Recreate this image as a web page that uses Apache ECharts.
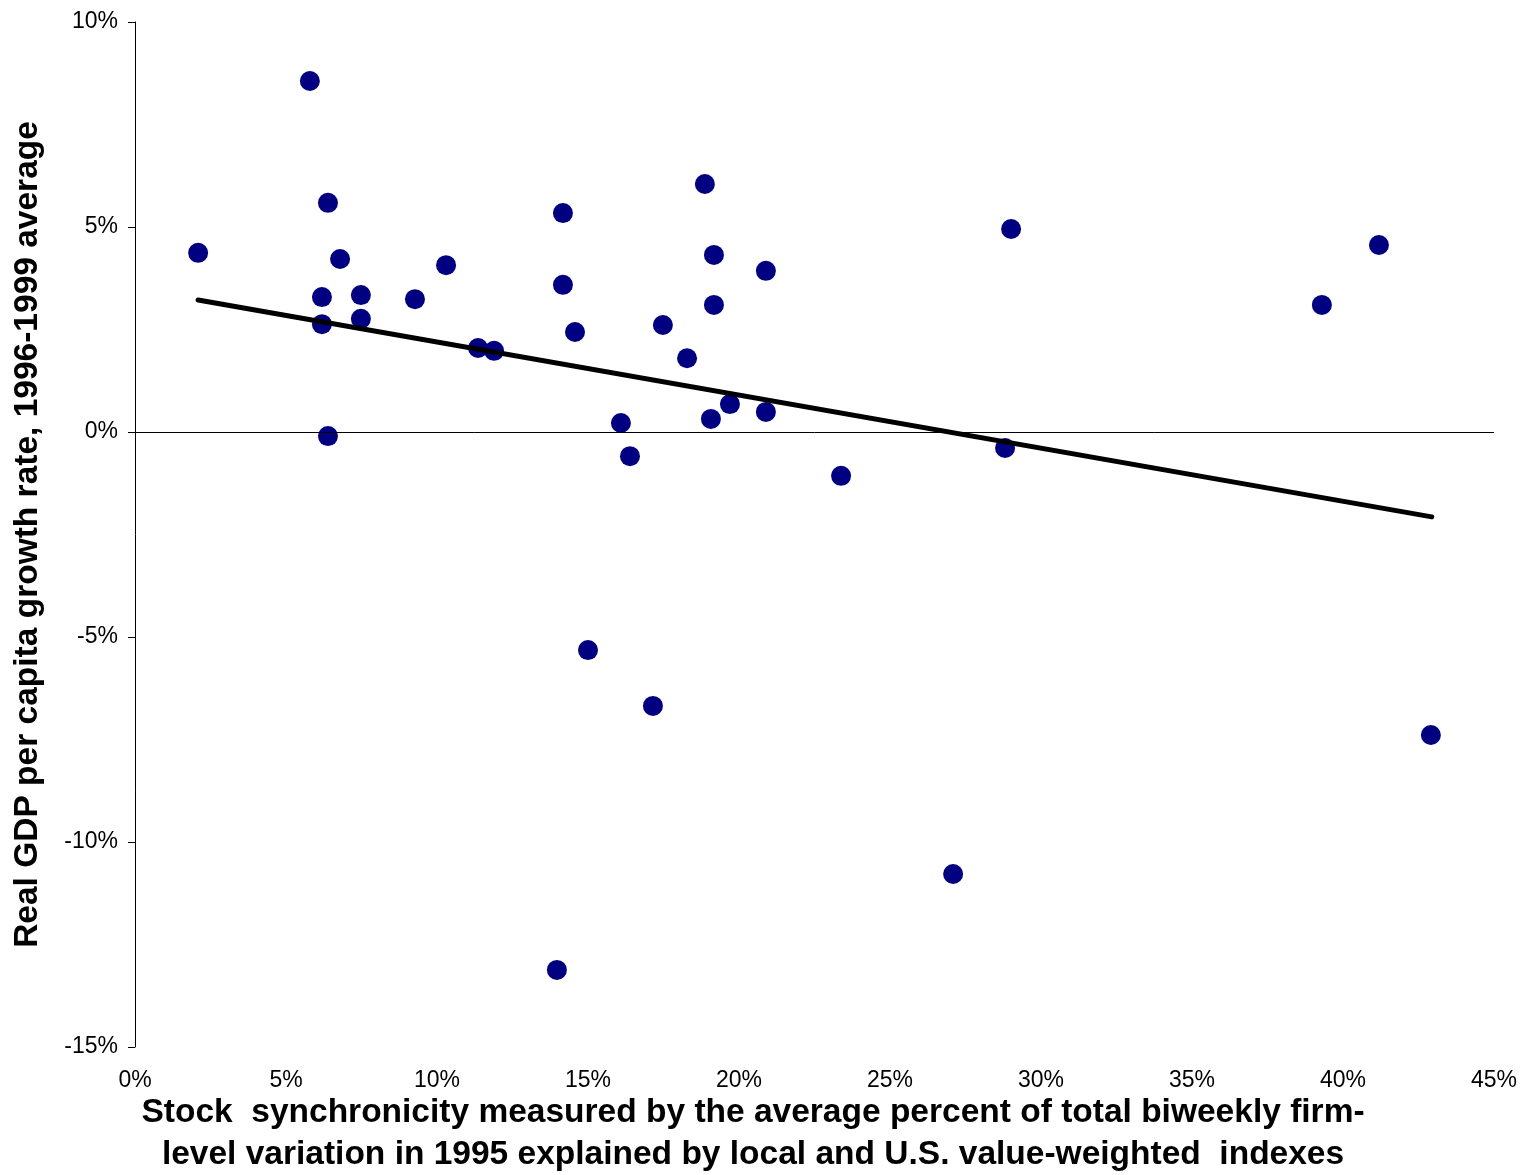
<!DOCTYPE html>
<html>
<head>
<meta charset="utf-8">
<script src="https://cdn.jsdelivr.net/npm/echarts@6/dist/echarts.min.js"></script>
<style>
  html, body { margin: 0; padding: 0; background: #fff; }
  #chart { width: 1524px; height: 1175px; }
</style>
</head>
<body>
<div id="chart"></div>
<script>
// synchronicity (%) and GDP growth (%) per country
const syncX = [2.09, 5.79, 6.39, 6.79, 6.19, 6.19, 7.48, 7.48, 6.39, 9.27,
  10.30, 11.36, 11.89, 14.17, 14.17, 14.57, 16.09, 16.39, 17.48, 18.28,
  18.87, 19.17, 19.17, 19.07, 19.70, 20.89, 20.89, 23.38, 29.01, 28.81,
  39.30, 41.19, 42.91, 27.09, 13.97, 15.00, 17.15]
const growthY = [4.37, 8.56, 5.59, 4.22, 3.29, 2.63, 3.34, 2.76, -0.10, 3.24,
  4.07, 2.05, 1.98, 5.34, 3.59, 2.44, 0.22, -0.59, 2.61, 1.80,
  6.05, 4.32, 3.10, 0.32, 0.68, 3.93, 0.49, -1.07, 4.95, -0.39,
  3.10, 4.56, -7.39, -10.78, -13.12, -5.32, -6.68]

// fitted line end points
const trendX = [2.09, 42.94]
const trendY = [3.22, -2.07]

const xTitle = 'Stock  synchronicity measured by the average percent of total biweekly firm-\nlevel variation in 1995 explained by local and U.S. value-weighted  indexes'
const yTitle = 'Real GDP per capita growth rate, 1996-1999 average'

const font = '"Liberation Sans", Arial, sans-serif'

const chart = echarts.init(document.getElementById('chart'))

const option = {
  animation: false,
  backgroundColor: '#fff',
  textStyle: { fontFamily: font },
  title: {
    text: xTitle,
    left: 748,
    top: 1087,
    textAlign: 'center',
    textStyle: {
      fontFamily: font,
      fontSize: 33.5,
      fontWeight: 'bold',
      color: '#000',
      lineHeight: 42
    }
  },
  grid: {
    left: 135,
    right: 30,
    top: 22,
    bottom: 128,
    outerBoundsMode: 'none'
  },
  xAxis: {
    type: 'value',
    min: 0,
    max: 45,
    interval: 5,
    axisLine: { show: false, onZero: false },
    axisTick: { show: false },
    splitLine: { show: false },
    axisLabel: {
      margin: 22,
      fontSize: 23,
      color: '#000',
      fontFamily: font,
      formatter: v => v + '%'
    }
  },
  yAxis: {
    type: 'value',
    min: -15,
    max: 10,
    interval: 5,
    name: yTitle,
    nameLocation: 'middle',
    nameGap: 90,
    nameTextStyle: {
      fontFamily: font,
      fontSize: 33.5,
      fontWeight: 'bold',
      color: '#000'
    },
    axisLine: { show: true, onZero: false, lineStyle: { color: '#000', width: 1 } },
    axisTick: { show: true, inside: false, length: 7, lineStyle: { color: '#000' } },
    splitLine: { show: false },
    axisLabel: {
      margin: 17,
      fontSize: 23,
      color: '#000',
      fontFamily: font,
      formatter: v => v + '%'
    }
  },
  series: [
    {
      type: 'line',
      data: trendX.map((x, i) => [x, trendY[i]]),
      symbol: 'none',
      silent: true,
      lineStyle: { color: '#000', width: 5, cap: 'round' },
      z: 3,
      markLine: {
        silent: true,
        symbol: 'none',
        label: { show: false },
        lineStyle: { color: '#000', width: 1, type: 'solid' },
        data: [{ yAxis: 0 }]
      }
    },
    {
      type: 'scatter',
      data: syncX.map((x, i) => [x, growthY[i]]),
      symbol: 'circle',
      symbolSize: 20,
      itemStyle: { color: '#000080', opacity: 1 },
      z: 2
    }
  ]
}

chart.setOption(option)
</script>
</body>
</html>
